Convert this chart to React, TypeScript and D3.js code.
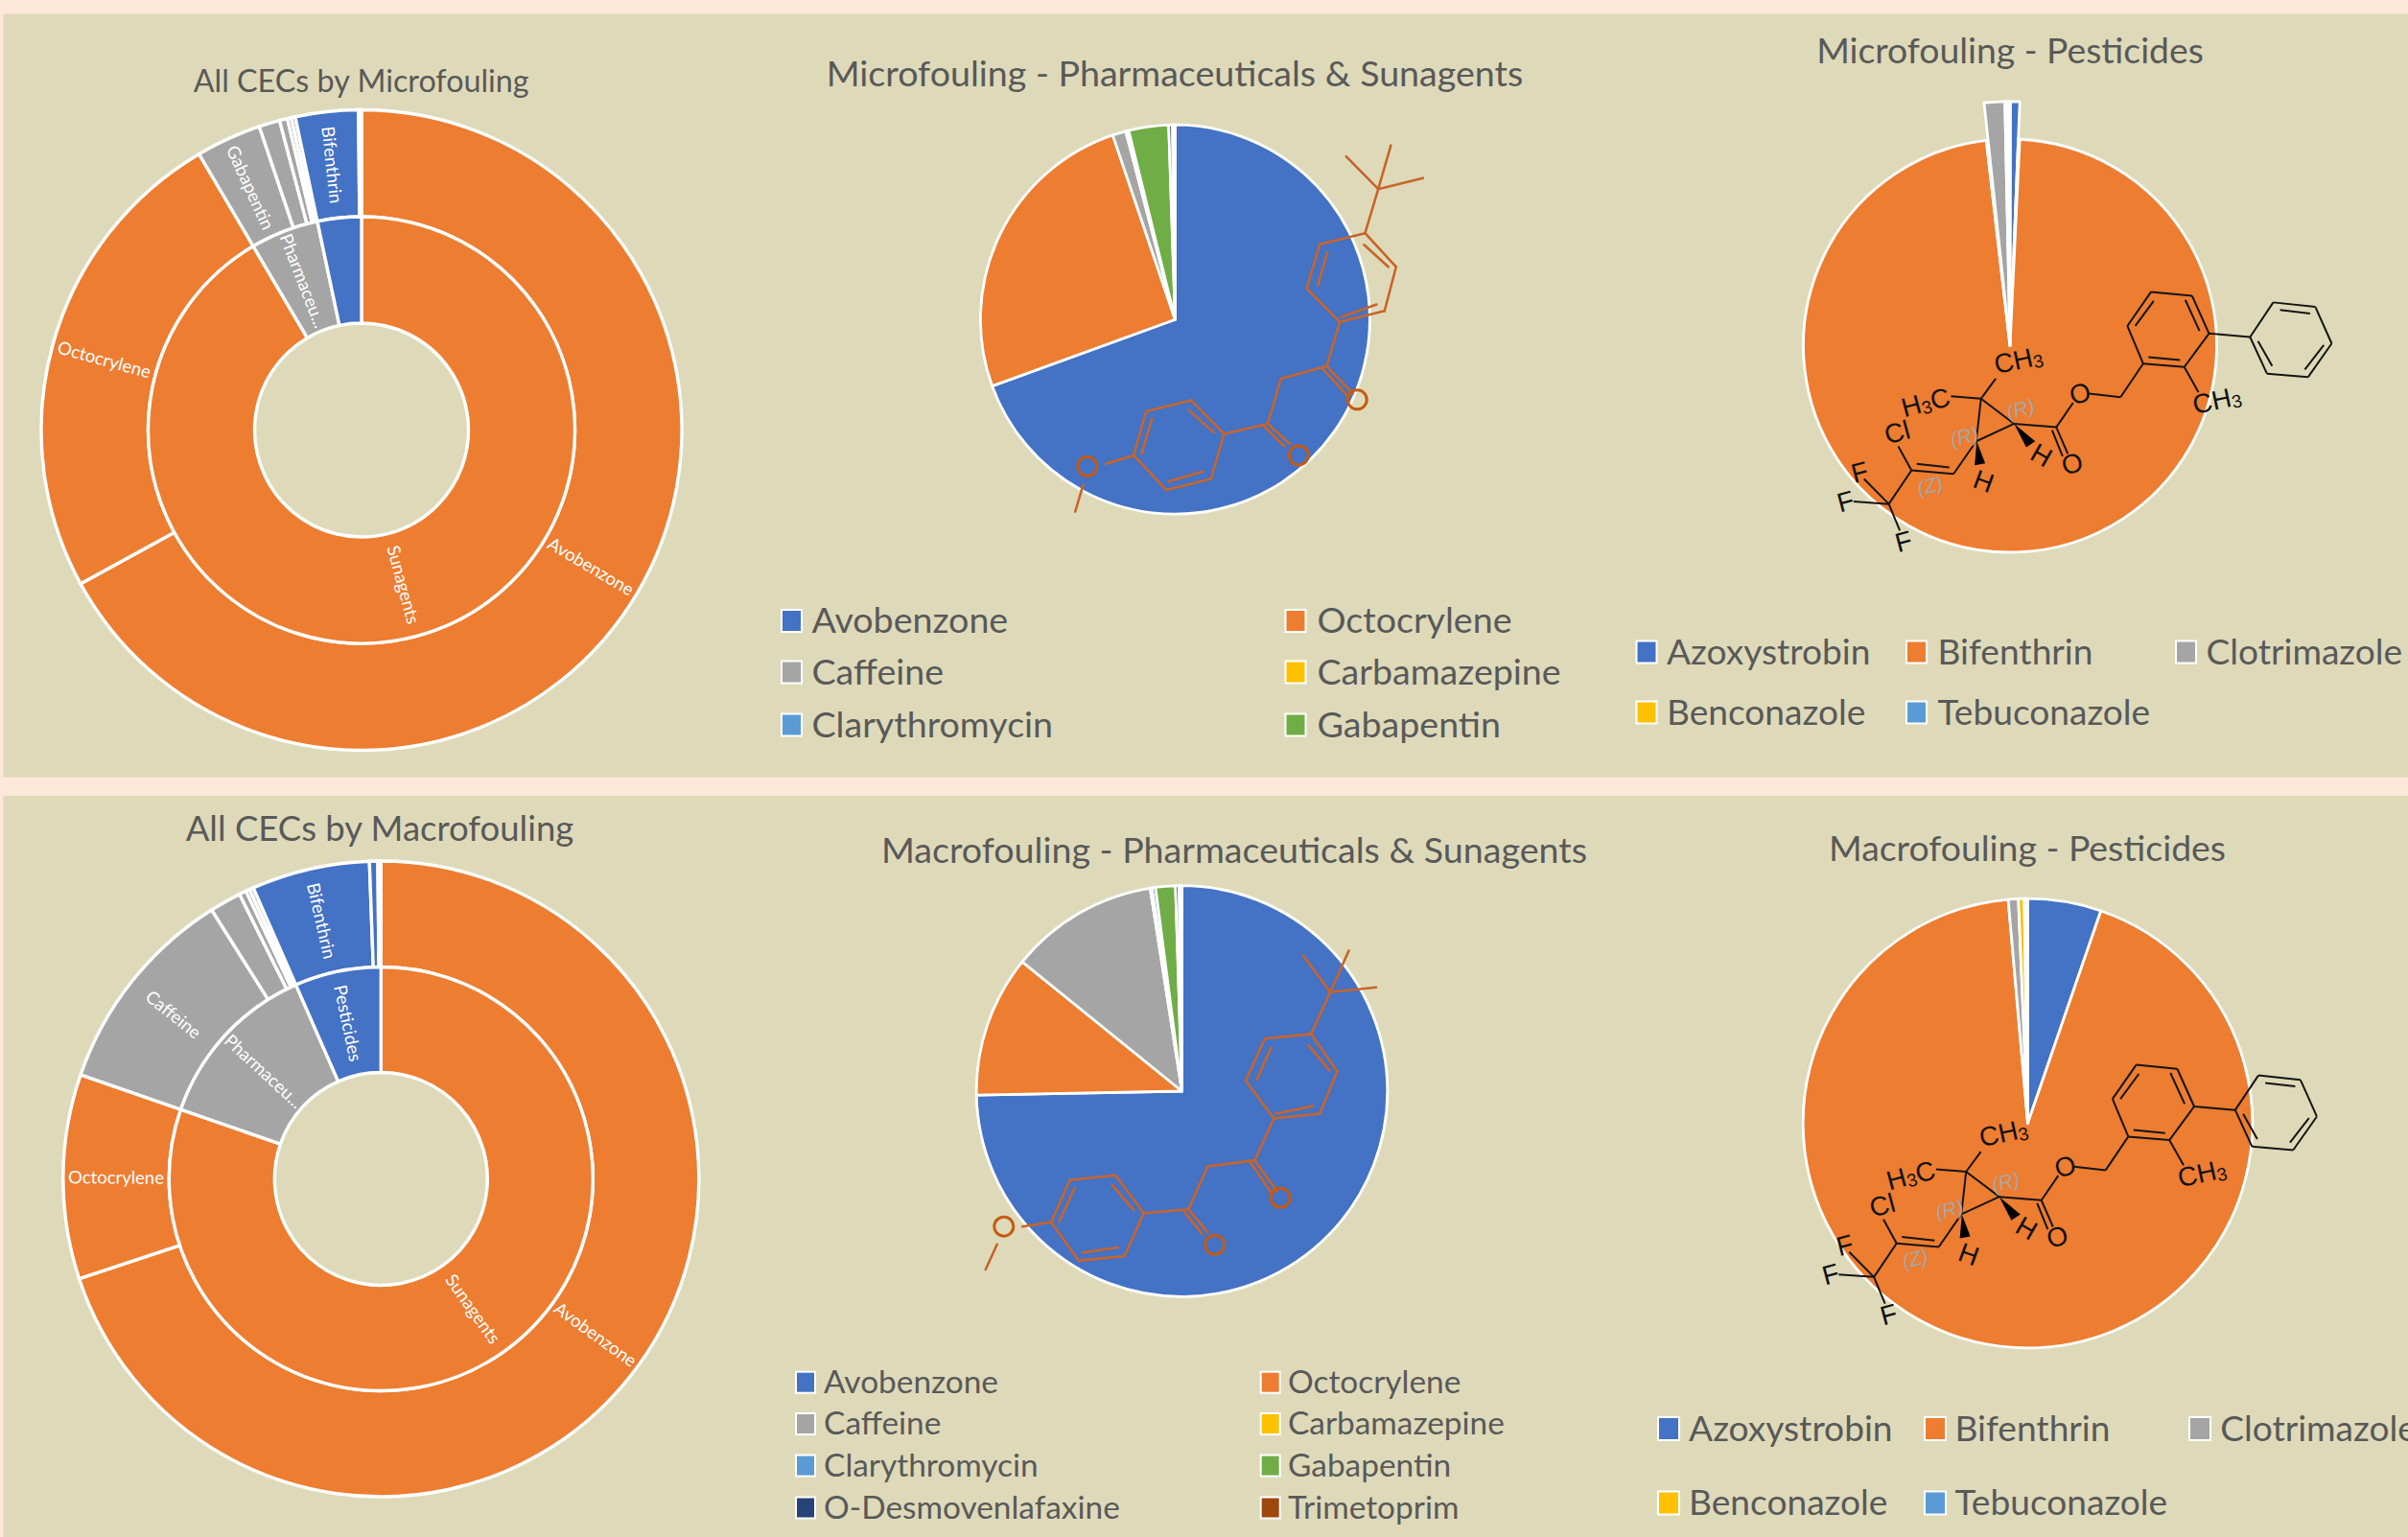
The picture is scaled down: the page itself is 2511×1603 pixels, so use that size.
import React from 'react';
import * as d3 from 'd3';

const W = 2511, H = 1603;
const FONT = 'Lato, Carlito, sans-serif';
const PAGE = '#FCE7D9', PANEL = '#DEDAB9', TITLE = '#595959', WHITE = '#FFFFFF';
const MOL_ORANGE = '#C8642A', MOL_BLACK = '#141414';

const colour: Record<string, string> = {
  Avobenzone: '#4472C4', Octocrylene: '#ED7D31', Caffeine: '#A5A5A5', Carbamazepine: '#FFC000',
  Clarythromycin: '#5B9BD5', Gabapentin: '#70AD47', 'O-Desmovenlafaxine': '#264478', Trimetoprim: '#9E480E',
  Azoxystrobin: '#4472C4', Bifenthrin: '#ED7D31', Clotrimazole: '#A5A5A5', Benconazole: '#FFC000', Tebuconazole: '#5B9BD5',
  gap: WHITE,
};
const groupColour: Record<string, string> = { Sunagents: '#ED7D31', 'Pharmaceu...': '#A5A5A5', Pesticides: '#4472C4' };

// Sunburst data (share of total, %)
const microGroups = ['Sunagents', 'Sunagents', 'Pharmaceu...', 'Pharmaceu...', 'Pharmaceu...', 'Pharmaceu...', 'Pharmaceu...', 'Pesticides', 'Pesticides'];
const microNames = ['Avobenzone', 'Octocrylene', 'Gabapentin', 'Caffeine', 'Clarythromycin', 'Carbamazepine', 'O-Desmovenlafaxine', 'Bifenthrin', 'gap'];
const microValues = [67.03, 24.5, 3.3, 1.05, 0.4, 0.2, 0.2, 3.17, 0.15];
const microOuterLabels = ['Avobenzone', 'Octocrylene', 'Gabapentin', 'Bifenthrin'];
const microInnerLabels = ['Sunagents', 'Pharmaceu...'];

const macroGroups = ['Sunagents', 'Sunagents', 'Pharmaceu...', 'Pharmaceu...', 'Pharmaceu...', 'Pharmaceu...', 'Pharmaceu...', 'Pesticides', 'Pesticides', 'Pesticides'];
const macroNames = ['Avobenzone', 'Octocrylene', 'Caffeine', 'Gabapentin', 'Clarythromycin', 'Carbamazepine', 'O-Desmovenlafaxine', 'Bifenthrin', 'Azoxystrobin', 'gap'];
const macroValues = [69.92, 10.39, 10.75, 1.6, 0.36, 0.2, 0.2, 6.0, 0.42, 0.16];
const macroOuterLabels = ['Avobenzone', 'Octocrylene', 'Caffeine', 'Bifenthrin'];
const macroInnerLabels = ['Sunagents', 'Pharmaceu...', 'Pesticides'];

// Pharmaceuticals & sunagents pies (degrees of the circle)
const pharmaNames = ['Avobenzone', 'Octocrylene', 'Caffeine', 'Carbamazepine', 'Clarythromycin', 'Gabapentin', 'O-Desmovenlafaxine', 'Trimetoprim'];
const microPharmaValues = [250, 91.3, 4, 0.4, 0.5, 11.9, 1.1, 0.8];
const macroPharmaValues = [268.9, 40.1, 42.1, 0.5, 1.0, 5.6, 1.0, 0.8];

// Pesticide pies
const microPestNames = ['gap', 'Azoxystrobin', 'gap', 'Bifenthrin', 'gap', 'Clotrimazole', 'gap'];
const microPestValues = [0.1, 2.2, 0.4, 350.7, 0.5, 4.9, 1.2];
const microPestOut = [1, 1, 0, 0, 0, 1, 1];
const macroPestNames = ['Azoxystrobin', 'Bifenthrin', 'Clotrimazole', 'Benconazole', 'gap'];
const macroPestValues = [19, 336, 2.6, 1.5, 0.9];

// Legends
const microPharmaLegend = [['Avobenzone', 'Octocrylene'], ['Caffeine', 'Carbamazepine'], ['Clarythromycin', 'Gabapentin']];
const macroPharmaLegend = [['Avobenzone', 'Octocrylene'], ['Caffeine', 'Carbamazepine'], ['Clarythromycin', 'Gabapentin'], ['O-Desmovenlafaxine', 'Trimetoprim']];
const pestLegend = [['Azoxystrobin', 'Bifenthrin', 'Clotrimazole'], ['Benconazole', 'Tebuconazole']];

// Avobenzone skeletal drawing, in drawing units
const avoBonds: number[][] = [
  [1198,377,1137,312],[1198,377,1222,290],[1198,377,1283,355],[1198,377,1173,465],
  [1173,465,1232,532],[1232,532,1210,620],[1210,620,1125,642],[1125,642,1062,575],[1062,575,1087,487],[1087,487,1173,465],
  [1171,488,1217,532],[1101,503,1083,570],[1128,632,1195,607],
  [1125,642,1100,730],[1100,730,1150,785],[1092,735,1140,790],[1100,730,1013,755],[1013,755,988,845],
  [988,845,1030,885],[980,850,1020,890],[988,845,905,865],
  [905,865,842,798],[842,798,757,820],[757,820,733,908],[733,908,795,977],[795,977,880,955],[880,955,905,865],
  [838,818,885,862],[768,835,748,905],[800,960,865,940],[733,908,680,925],[637,967,622,1020],
];
const avoOxygens: number[][] = [[1158,797],[1047,908],[645,930]];

// Bifenthrin skeletal drawing, in drawing units
const bifBonds: number[][] = [
  [757,795,820,845],[820,845,748,880],[748,880,757,795],[757,795,785,755],[757,795,700,790],
  [820,845,900,852],[900,852,922,905],[892,858,912,910],[900,852,932,803],[962,785,1022,792],[1022,792,1065,725],
  [1065,725,1143,732],[1143,732,1190,665],[1190,665,1158,590],[1158,590,1080,582],[1080,582,1035,650],[1035,650,1065,725],
  [1075,712,1135,718],[1172,660,1145,598],[1085,600,1050,650],
  [1190,665,1268,672],[1268,672,1312,603],[1312,603,1392,612],[1392,612,1423,685],[1423,685,1378,752],[1378,752,1300,745],[1300,745,1268,672],
  [1325,618,1382,625],[1408,688,1372,737],[1283,680,1310,730],[1143,732,1170,782],
  [748,880,705,945],[705,945,625,938],[697,932,635,925],[625,938,600,890],[625,938,582,1005],
  [582,1005,535,955],[582,1005,515,1000],[582,1005,603,1058],
];
const bifWedges: number[][] = [[749,880,745,928,765,924],[820,845,843,892,860,880]];
const bifAtoms: [string, string, number, number, number][] = [
  ['C', '3', 828, 718, -12], ['H3C', '', 652, 802, -15], ['Cl', '', 598, 862, -15], ['F', '', 527, 942, -15],
  ['F', '', 500, 1000, -15], ['F', '', 610, 1080, -15], ['O', '', 945, 785, -15], ['O', '', 930, 925, -15],
  ['H', '', 872, 908, 30], ['H', '', 762, 960, 20], ['C', '3', 1205, 798, -12],
];
const bifStereo: [string, number, number][] = [['(R)', 832, 815], ['(R)', 725, 870], ['(Z)', 660, 968]];

const bx = d3.scaleLinear([0, 1], [1650, 1650 + 1 / 1.821]);
const by = d3.scaleLinear([0, 1], [0, 1 / 1.912]);
const ax = d3.scaleLinear([1198, 1199], [0, 1 / 1.823]);
const ay = d3.scaleLinear([377, 378], [0, 1 / 1.912]);

function Title({ x, y, size, text }: any) {
  return <text x={x} y={y} textAnchor="middle" fontSize={size} fill={TITLE} fontFamily={FONT}>{text}</text>;
}

function Sunburst({ cx, cy, r0, r1, r2, groups, names, values, outerLabels, innerLabels, size }: any) {
  const pie = d3.pie<number>().sort(null);
  const outer = pie(values);
  const groupNames: string[] = Array.from(new Set(groups));
  const groupValues = groupNames.map((g) => d3.sum(values.filter((_: number, i: number) => groups[i] === g)) as number);
  const inner = pie(groupValues);
  const arcOuter = d3.arc<any>().innerRadius(r1).outerRadius(r2);
  const arcInner = d3.arc<any>().innerRadius(r0).outerRadius(r1);
  const label = (a: any, arc: any, text: string, key: string) => {
    const mid = (((a.startAngle + a.endAngle) / 2) * 180) / Math.PI;
    const rot = mid < 180 ? mid - 90 : mid - 270;
    const [x, y] = arc.centroid(a);
    return (
      <text key={key} transform={`translate(${x},${y}) rotate(${rot})`} textAnchor="middle" dominantBaseline="central"
        fontSize={size} fill={WHITE} fontFamily={FONT}>{text}</text>
    );
  };
  return (
    <g transform={`translate(${cx},${cy})`}>
      {outer.map((a, i) => (
        <path key={i} d={arcOuter(a) as string} fill={names[i] === 'gap' ? WHITE : groupColour[groups[i]]} stroke={WHITE} strokeWidth={3.4} />
      ))}
      {inner.map((a, i) => (
        <path key={i} d={arcInner(a) as string} fill={groupColour[groupNames[i]]} stroke={WHITE} strokeWidth={3.4} />
      ))}
      {outer.map((a, i) => outerLabels.includes(names[i]) && label(a, arcOuter, names[i], 'o' + i))}
      {inner.map((a, i) => innerLabels.includes(groupNames[i]) && label(a, arcInner, groupNames[i], 'i' + i))}
    </g>
  );
}

function Pie({ cx, cy, r, rOut, names, values, out, strokeWidth = 2.8 }: any) {
  const slices = d3.pie<number>().sort(null)(values);
  return (
    <g transform={`translate(${cx},${cy})`}>
      {slices.map((a, i) => {
        const radius = out && out[i] ? rOut : r;
        const d = d3.arc<any>().innerRadius(0).outerRadius(radius)(a) as string;
        return <path key={i} d={d} fill={colour[names[i]]} stroke={WHITE} strokeWidth={strokeWidth} strokeLinejoin="round" />;
      })}
    </g>
  );
}

function Legend({ rows, xs, textXs, ys, size, box }: any) {
  return (
    <g fontFamily={FONT} fontSize={size} fill={TITLE}>
      {rows.map((row: string[], r: number) =>
        row.map((name, c) => (
          <g key={name}>
            <rect x={xs[c] + 1} y={ys[r] - box / 2} width={box - 2} height={box} fill={colour[name]} stroke={WHITE} strokeWidth={2} />
            <text x={textXs[c] - 1.5} y={ys[r] - 2} dominantBaseline="central">{name}</text>
          </g>
        )),
      )}
    </g>
  );
}

function Avobenzone({ x, y, rotate }: any) {
  return (
    <g transform={`translate(${x},${y}) rotate(${rotate})`} stroke={MOL_ORANGE} fill="none" strokeLinecap="round">
      {avoBonds.map((b, i) => <line key={i} x1={ax(b[0])} y1={ay(b[1])} x2={ax(b[2])} y2={ay(b[3])} strokeWidth={2.6} />)}
      {avoOxygens.map((o, i) => <circle key={i} cx={ax(o[0])} cy={ay(o[1])} r={10} strokeWidth={3} stroke="#C55A11" />)}
    </g>
  );
}

function Bifenthrin({ dx, dy }: any) {
  const family = "'Liberation Sans', sans-serif";
  const atom = (a: any, i: number) => {
    const [t, sub, x, y, rot] = a;
    const transform = `translate(${bx(x)},${by(y)}) rotate(${rot})`;
    const shared = { transform, textAnchor: 'middle', dominantBaseline: 'central', fontSize: 28, fill: '#111', fontFamily: family } as any;
    if (sub) return <text key={i} {...shared}>CH<tspan fontSize={19} dy={5}>{sub}</tspan></text>;
    if (t === 'H3C') return <text key={i} {...shared}>H<tspan fontSize={19} dy={5}>3</tspan><tspan dy={-5}>C</tspan></text>;
    return <text key={i} {...shared}>{t}</text>;
  };
  return (
    <g transform={`translate(${dx},${dy})`}>
      {bifBonds.map((b, i) => <line key={i} x1={bx(b[0])} y1={by(b[1])} x2={bx(b[2])} y2={by(b[3])} stroke={MOL_BLACK} strokeWidth={2} />)}
      {bifWedges.map((w, i) => <polygon key={i} points={`${bx(w[0])},${by(w[1])} ${bx(w[2])},${by(w[3])} ${bx(w[4])},${by(w[5])}`} fill="#000" />)}
      {bifAtoms.map(atom)}
      {bifStereo.map(([t, x, y], i) => (
        <text key={i} transform={`translate(${bx(x)},${by(y)}) rotate(-15)`} textAnchor="middle" dominantBaseline="central" fontSize={21} fontStyle="italic"
          fill="#A6A6A6" fontFamily={family}>{t}</text>
      ))}
    </g>
  );
}

export default function App() {
  return (
    <svg width={W} height={H} viewBox={`0 0 ${W} ${H}`} style={{ position: 'fixed', left: 0, top: 0, display: 'block' }}>
      <rect width={W} height={H} fill={PAGE} />
      <rect x={3.4} y={14.6} width={W} height={796} fill={PANEL} />
      <rect x={3.4} y={830} width={W} height={H - 830} fill={PANEL} />

      <Title x={376.7} y={95.5} size={32.3} text="All CECs by Microfouling" />
      <Sunburst cx={377} cy={448.5} r0={111.5} r1={222.5} r2={334} groups={microGroups} names={microNames} values={microValues}
        outerLabels={microOuterLabels} innerLabels={microInnerLabels} size={18.5} />

      <Title x={1225} y={90} size={37.6} text="Microfouling - Pharmaceuticals & Sunagents" />
      <Pie cx={1225.4} cy={333.2} r={203} names={pharmaNames} values={microPharmaValues} />
      <Avobenzone x={1437.2} y={197.2} rotate={0} />
      <Legend rows={microPharmaLegend} xs={[814, 1339.5]} textXs={[848, 1375]} ys={[647.5, 701, 756]} size={37.6} box={23} />

      <Title x={2096} y={66.4} size={37.3} text="Microfouling - Pesticides" />
      <Pie cx={2096} cy={360.5} r={215.5} rOut={254.7} names={microPestNames} values={microPestValues} out={microPestOut} />
      <Bifenthrin dx={0} dy={0} />
      <Legend rows={pestLegend} xs={[1705.5, 1987, 2268]} textXs={[1739.5, 2022, 2302]} ys={[680, 743]} size={37.1} box={23} />

      <Title x={396} y={877.4} size={36.5} text="All CECs by Macrofouling" />
      <Sunburst cx={397.3} cy={1229.5} r0={111} r1={221} r2={331.5} groups={macroGroups} names={macroNames} values={macroValues}
        outerLabels={macroOuterLabels} innerLabels={macroInnerLabels} size={18.5} />

      <Title x={1287} y={899.5} size={37.6} text="Macrofouling - Pharmaceuticals & Sunagents" />
      <Pie cx={1232.5} cy={1138} r={214.3} names={pharmaNames} values={macroPharmaValues} />
      <Avobenzone x={1387.2} y={1034.7} rotate={7.95} />
      <Legend rows={macroPharmaLegend} xs={[829, 1313.7]} textXs={[860.6, 1344.5]} ys={[1441.7, 1485, 1528.6, 1572.5]} size={33.4} box={22} />

      <Title x={2114} y={897.9} size={37.4} text="Macrofouling - Pesticides" />
      <Pie cx={2114.5} cy={1171.5} r={234.3} names={macroPestNames} values={macroPestValues} />
      <Bifenthrin dx={-15.5} dy={806.2} />
      <Legend rows={pestLegend} xs={[1728, 2006, 2282]} textXs={[1762.6, 2040, 2316.7]} ys={[1490, 1567.5]} size={37.1} box={24} />
    </svg>
  );
}
